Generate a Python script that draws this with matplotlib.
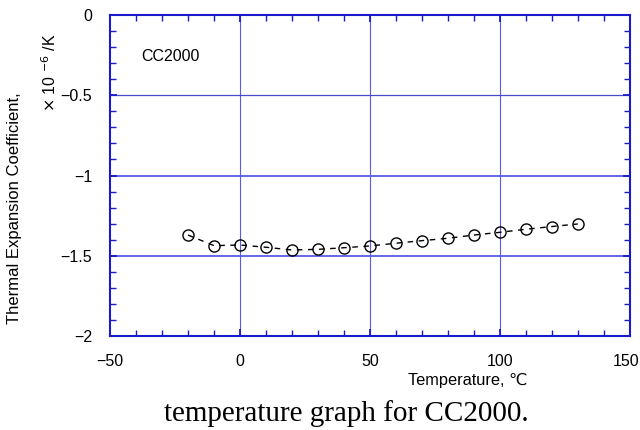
import matplotlib
matplotlib.use("Agg")
import matplotlib.pyplot as plt
from matplotlib.ticker import MultipleLocator
from matplotlib.transforms import ScaledTranslation

# CC2000 thermal expansion coefficient, x 10^-6 /K
temperature = [-20, -10, 0, 10, 20, 30, 40, 50, 60, 70, 80, 90, 100, 110, 120, 130]
cte = [-1.371, -1.437, -1.433, -1.447, -1.464, -1.460, -1.450, -1.439,
       -1.422, -1.406, -1.391, -1.371, -1.354, -1.335, -1.318, -1.302]

x_ticks = [-50, 0, 50, 100, 150]
y_ticks = [-2, -1.5, -1, -0.5, 0]
y_tick_labels = ["\u22122", "\u22121.5", "\u22121", "\u22120.5", "0"]
x_tick_labels = ["\u221250", "0", "50", "100", "150"]

blue = "#1a1acc"
grid_blue = "#5a5ae6"

plt.rcParams["font.family"] = ["Liberation Sans", "DejaVu Sans"]

fig = plt.figure(figsize=(6.4, 4.3), dpi=100)
ax = fig.add_axes([0.172, 0.2186, 0.812, 0.7465])

# grid lines
for x in [0, 50, 100]:
    ax.axvline(x, color=grid_blue, lw=0.8, zorder=1)
ax.axhline(-0.5, color="#4a4acc", lw=0.9, zorder=1)
ax.axhline(-1.0, color=grid_blue, lw=1.3, zorder=1)
ax.axhline(-1.5, color=grid_blue, lw=1.3, zorder=1)

ax.plot(temperature, cte, color="black", lw=1, ls=(0, (4, 4)),
        marker="o", markersize=8, markerfacecolor="none",
        markeredgecolor="black", markeredgewidth=1, zorder=3)

ax.set_xlim(-50, 150)
ax.set_ylim(-2, 0)
ax.set_xticks(x_ticks)
ax.set_xticklabels(x_tick_labels)
ax.set_yticks(y_ticks)
ax.set_yticklabels(y_tick_labels)
ax.xaxis.set_minor_locator(MultipleLocator(10))
ax.yaxis.set_minor_locator(MultipleLocator(0.1))
ax.tick_params(which="both", direction="in", top=True, right=True, color=blue,
               labelsize=11.5, labelcolor="black", pad=13)
ax.tick_params(which="major", length=5, width=1.3)
ax.tick_params(which="minor", length=4, width=1)
for s in ax.spines.values():
    s.set_color(blue)
    s.set_linewidth(1.5)

# keep the last x label inside the figure
last = ax.get_xticklabels()[-1]
last.set_transform(last.get_transform() + ScaledTranslation(-4 / 100, 0, fig.dpi_scale_trans))

ax.text(-38, -0.26, "CC2000", fontsize=11.5, va="center", ha="left")

fig.text(15 / 640, 1 - 208 / 430, "Thermal Expansion Coefficient,", rotation=90,
         fontsize=12, ha="center", va="center")
fig.text(50 / 640, 1 - 73 / 430, r"$\times$ 10 $^{-6}$ /K", rotation=90,
         fontsize=11.5, ha="center", va="center")
fig.text(468 / 640, 1 - 380 / 430, "Temperature, \u2103", fontsize=11.8,
         ha="center", va="center")

fig.text(346 / 640, 1 - 421 / 430, "temperature graph for CC2000.",
         family=["Liberation Serif", "DejaVu Serif"], fontsize=21,
         ha="center", va="baseline")

fig.savefig("out.png", dpi=100)
